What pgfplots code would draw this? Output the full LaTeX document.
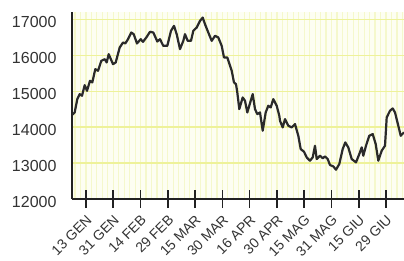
\documentclass[border=0pt]{standalone}
\usepackage{pgfplots}
\pgfplotsset{compat=1.18}
\usepackage{fontspec}
\setmainfont{Liberation Sans}
\definecolor{linec}{HTML}{2A2A2A}
\definecolor{axc}{HTML}{222222}
\definecolor{txtc}{HTML}{333333}
\definecolor{hgrid}{HTML}{EEF29A}
\definecolor{vgrid}{HTML}{F5F8CC}
\definecolor{bgc}{HTML}{FDFEF2}
\begin{document}
\begin{tikzpicture}
\path[use as bounding box] (-72pt,-61pt) rectangle (332pt,199pt);
\begin{axis}[
  at={(0,0)}, anchor=origin,
  scale only axis,
  width=332pt, height=187pt,
  xmin=0, xmax=332,
  ymin=12000, ymax=17200,
  axis lines*=left,
  axis line style={axc, line width=1.8pt},
  axis background/.style={fill=bgc},
  xtick={14,41.3,68.5,95.8,123.1,150.4,177.6,204.9,232.2,259.5,286.7,314},
  xticklabels={13 GEN,31 GEN,14 FEB,29 FEB,15 MAR,30 MAR,16 APR,30 APR,15 MAG,31 MAG,15 GIU,29 GIU},
  minor xtick={3.09,8.55,19.45,24.9,30.35,35.8,46.75,52.2,57.65,63.1,74,79.45,84.9,90.35,101.25,106.7,112.15,117.6,128.55,134,139.45,144.9,155.8,161.25,166.7,172.15,183.1,188.55,194,199.45,210.35,215.8,221.25,226.7,237.65,243.1,248.55,254,264.9,270.35,275.8,281.25,292.15,297.6,303.05,308.5,319.45,324.9,330.35},
  ytick={12000,13000,14000,15000,16000,17000},
  scaled y ticks=false,
  yticklabel={\pgfmathprintnumber[fixed,precision=0,1000 sep={}]{\tick}},
  /pgf/number format/1000 sep={},
  /pgf/number format/assume math mode=true,
  tick label style={font=\fontsize{16}{18}\selectfont, text=txtc},
  xticklabel style={font=\fontsize{14}{16}\selectfont, rotate=45, anchor=east, xshift=-1pt, yshift=-9pt},
  yticklabel style={xshift=-3pt, yshift=-3pt},
  xmajorgrids=true, xminorgrids=true, ymajorgrids=true,
  major grid style={vgrid, line width=1.2pt},
  minor grid style={vgrid, line width=1.2pt},
  y grid style={hgrid, line width=1.2pt},
  x tick style={axc, line width=1.6pt},
  major tick length=18pt,
  minor tick length=0pt,
  tick align=center,
  ytick style={draw=none},
  clip=false,
]
\addplot[linec, line width=2.2pt, line join=round] coordinates {
(0.5,14350) (2.7,14408) (5.3,14778) (7.7,14917) (10,14870) (12.7,15167) (15,15008)
(18,15287) (20.3,15242) (23.3,15611) (26,15565) (29.3,15842) (32.7,15889) (34.7,15797)
(36.7,16028) (41,15750) (43.7,15797) (47.7,16213) (51,16352) (53.3,16325) (56,16444)
(59.3,16630) (61.7,16583) (65,16325) (68.7,16444) (71,16370) (74.3,16491) (78,16650)
(81.3,16630) (85.3,16380) (88,16444) (91.3,16259) (95.3,16259) (99,16676) (102,16815)
(104.7,16583) (108,16167) (111.3,16398) (113,16583) (115.7,16398) (119,16398) (121.3,16676)
(124.7,16769) (128,16954) (130.7,17046) (133,16861) (136.3,16630) (139.7,16398) (143,16537)
(146.3,16491) (149.7,16259) (152,15935) (155.3,15935) (159.7,15565) (162,15241) (164,15194)
(165.3,14963) (167.3,14500) (170.7,14824) (173,14731) (175.3,14407) (180.7,14917) (183,14500)
(185.3,14361) (188,14407) (190.7,13898) (193.7,14407) (196.3,14593) (198.7,14546) (201.3,14778)
(204.7,14593) (207.3,14315) (208,14176) (210.7,13991) (213,14222) (216.3,14037) (219.7,13991)
(223,14083) (226.3,13759) (228.7,13389) (232,13315) (234.7,13157) (238,13065) (240.7,13157)
(243,13481) (244.7,13111) (248,13204) (250.7,13130) (253,13185) (255.7,13111) (258,12944)
(261.3,12907) (264,12815) (267.3,12972) (270.7,13389) (273.3,13574) (276.3,13435) (279.7,13111)
(284,13019) (287.3,13250) (289.7,13435) (291.3,13204) (294,13481) (297.3,13759) (300.7,13806)
(303.7,13528) (306.3,13065) (309.7,13343) (313,13481) (314.7,14269) (318,14454) (320.7,14519)
(323,14407) (326.3,14037) (328.7,13759) (332,13852)
};
\end{axis}
\end{tikzpicture}
\end{document}
